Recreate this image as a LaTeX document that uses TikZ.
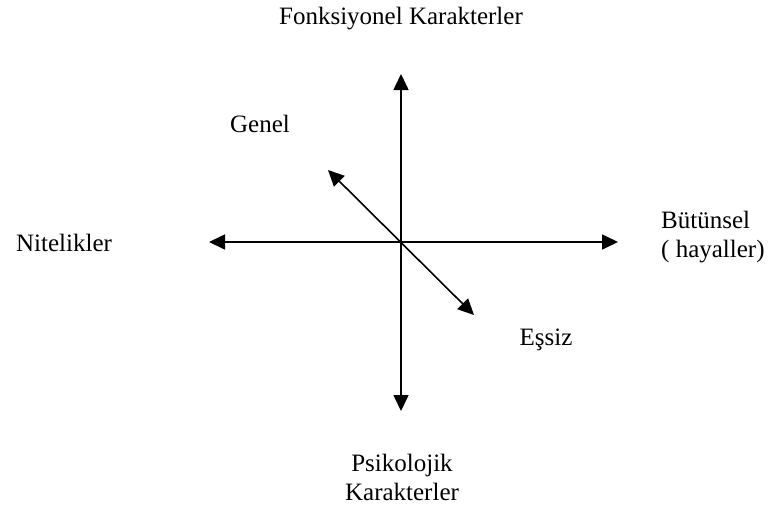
\documentclass[tikz,border=0pt]{standalone}
\usepackage{fontspec}
\setmainfont{Liberation Serif}
\usepackage{tikz}
\usetikzlibrary{positioning,arrows.meta}
\tikzset{
  lbl/.style={align=center,inner sep=0pt,font=\fontsize{25}{29}\selectfont},
  ax/.style={{Triangle[length=16pt,width=15pt]}-{Triangle[length=16pt,width=15pt]},line width=1.6pt},
}
\begin{document}
\begin{tikzpicture}[x=1pt,y=-1pt]
  \useasboundingbox (0,0) rectangle (773,506);
  % eksenler
  \coordinate (top) at (401,74);
  \coordinate (bot) at (401,411);
  \coordinate (lft) at (209,242);
  \coordinate (rgt) at (618,242);
  \coordinate (gen) at (328,170);
  \coordinate (ess) at (474,315);
  \draw[ax] (bot) -- (top);
  \draw[ax] (lft) -- (rgt);
  \draw[ax] (ess) -- (gen);
  % etiketler
  \node[lbl] (fonk) at (401,19) {Fonksiyonel Karakterler};
  \node[lbl] (genel) at (260,124) {Genel};
  \node[lbl] (nit) at (64,243) {Nitelikler};
  \node[lbl,align=left,anchor=west] (butun) at (661,237) {Bütünsel\\( hayaller)};
  \node[lbl] (essiz) at (546,340) {Eşsiz};
  \node[lbl] (psi) at (402,477) {Psikolojik\\Karakterler};
\end{tikzpicture}
\end{document}
